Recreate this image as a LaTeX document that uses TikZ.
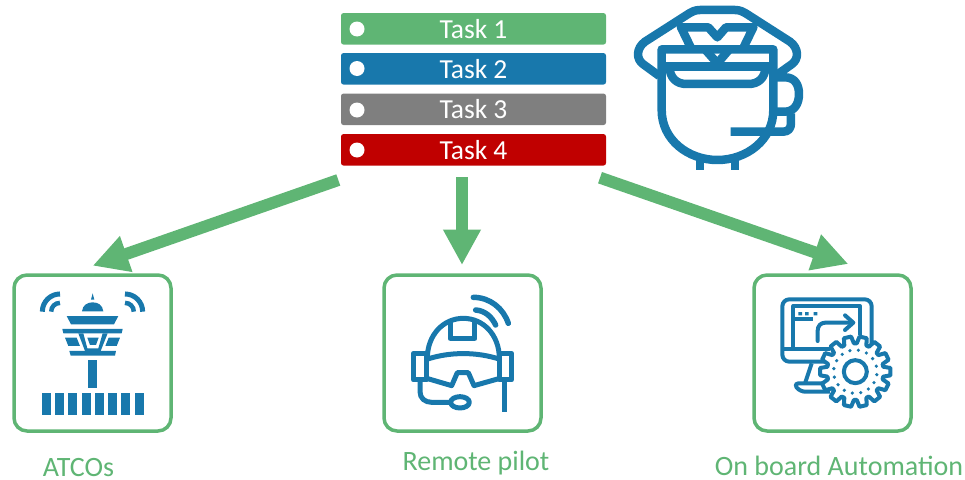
\documentclass[tikz,border=0pt]{standalone}
\usepackage{fontspec}
\setmainfont{Carlito}
\usetikzlibrary{arrows.meta}
\definecolor{gr}{HTML}{5FB574}
\definecolor{bl}{HTML}{1878AC}
\definecolor{gy}{HTML}{7F7F7F}
\definecolor{rd}{HTML}{C00000}
\tikzset{
  taskbar/.style={rounded corners=2.5pt,minimum width=265pt,minimum height=31.5pt,inner sep=0pt,text=white,font=\fontsize{27.5}{27.5}\selectfont},
  iconbox/.style={draw=gr,line width=3.5pt,rounded corners=13pt,minimum width=157pt,minimum height=156pt,inner sep=0pt},
  biglabel/.style={text=gr,inner sep=0pt,font=\fontsize{28}{28}\selectfont},
  dot/.style={fill=white,circle,minimum size=15pt,inner sep=0pt},
  bigarrow/.style={draw=gr,line width=12pt,-{Triangle[width=35.5pt,length=35.5pt]}},
  ic/.style={draw=bl,line join=round,fill=none},
}
\begin{document}
\begin{tikzpicture}[x=1pt,y=-1pt]
\useasboundingbox (0,0) rectangle (965,479);
% task bars
\node[taskbar,fill=gr] (t1) at (473.5,28.8) {Task 1};
\node[taskbar,fill=bl] (t2) at (473.5,68.8) {Task 2};
\node[taskbar,fill=gy] (t3) at (473.5,109.3) {Task 3};
\node[taskbar,fill=rd] (t4) at (473.5,149.8) {Task 4};
\node[dot] (d1) at (357,29) {};
\node[dot] (d2) at (357,68.5) {};
\node[dot] (d3) at (357,110) {};
\node[dot] (d4) at (357,150) {};
% boxes
\node[iconbox] (b1) at (92.5,353) {};
\node[iconbox] (b2) at (462.5,353) {};
\node[iconbox] (b3) at (832.5,353) {};
% labels
\node[biglabel] (l1) at (78.5,468) {ATCOs};
\node[biglabel] (l2) at (476,463) {Remote pilot};
\node[biglabel] (l3) at (839,466) {On board Automation};
% arrows
\coordinate (a1s) at (338.3,180);
\coordinate (a1e) at (92.7,265.7);
\coordinate (a2s) at (462,177.3);
\coordinate (a2e) at (462,265);
\coordinate (a3s) at (600,177.7);
\coordinate (a3e) at (848.3,264);
\draw[bigarrow] (a1s) -- (a1e);
\draw[bigarrow] (a2s) -- (a2e);
\draw[bigarrow] (a3s) -- (a3e);
% pilot cup icon
\begin{scope}[shift={(620,0)},x=0.3333pt,y=-0.3333pt,ic,line width=8.5pt]
\draw (118,228) -- (70,193) .. controls (48,178) and (48,145) .. (75,125) -- (200,45) .. controls (215,35) and (225,30) .. (240,30) -- (345,30) .. controls (360,30) and (370,35) .. (385,45) -- (510,125) .. controls (537,145) and (537,178) .. (515,193) -- (470,225);
\draw (125,148) -- (460,148) -- (460,330) .. controls (460,420) and (380,480) .. (292,480) .. controls (205,480) and (125,420) .. (125,330) -- cycle;
\draw (125,200) -- (460,200);
\draw (148,200) .. controls (150,235) and (170,252) .. (200,252) -- (385,252) .. controls (415,252) and (435,235) .. (437,200);
\draw (460,232) -- (495,232) .. controls (525,232) and (537,255) .. (537,282) .. controls (537,315) and (520,335) .. (495,335) -- (462,335);
\draw (513,340) -- (513,370) .. controls (513,385) and (505,395) .. (490,395) -- (332,395);
\draw (240,480) -- (240,510);
\draw (345,480) -- (345,510);
\draw (215,148) -- (183,82) -- (265,82) -- (292,112) -- (318,82) -- (400,82) -- (368,148);
\draw (255,148) -- (292,190) -- (328,148);
\end{scope}
% tower icon
\begin{scope}[shift={(10,270)},x=0.3333pt,y=-0.3333pt]
\draw[bl,line width=5pt] (97,125) arc[start angle=180,end angle=90,radius=17.7pt];
\draw[bl,line width=4.5pt] (123.5,125) arc[start angle=180,end angle=90,radius=8.8pt];
\draw[bl,line width=5pt] (398,125) arc[start angle=0,end angle=90,radius=17.7pt];
\draw[bl,line width=4.5pt] (371.5,125) arc[start angle=0,end angle=90,radius=8.8pt];
\fill[bl] (216,124) .. controls (218,105) and (232,97) .. (248,97) .. controls (264,97) and (278,105) .. (280,124) -- cycle;
\fill[bl] (248,70) -- (243,89) -- (253,89) -- cycle;
\fill[bl] (170,138) -- (325,138) -- (312,163) -- (183,163) -- cycle;
\fill[bl] (157,177) -- (338,177) -- (335,190) -- (160,190) -- cycle;
\fill[bl] (165,203) -- (200,203) -- (210,228) -- (175,228) -- cycle;
\fill[bl] (330,203) -- (296,203) -- (286,228) -- (320,228) -- cycle;
\fill[bl] (232,203) -- (266,203) -- (258,225) -- (240,225) -- cycle;
\fill[bl] (205,190) -- (220,190) -- (232,235) -- (265,235) -- (278,190) -- (293,190) -- (272,243) -- (225,243) -- cycle;
\fill[bl] (178,243) -- (318,243) -- (315,257) -- (182,257) -- cycle;
\fill[bl] (235,270) rectangle (261,355);
\foreach \k in {0,...,7}{\fill[bl] ({96+\k*39.7},369) rectangle ({123+\k*39.7},435);}
\end{scope}
% helmet icon
\begin{scope}[shift={(380,270)},x=0.3333pt,y=-0.3333pt,ic,line width=5pt]
\draw (142,265) .. controls (142,195) and (190,145) .. (250,145) .. controls (310,145) and (358,195) .. (358,265);
\draw (210,150) -- (210,205) -- (285,205) -- (285,150);
\draw (140,268) .. controls (210,245) and (290,245) .. (360,268);
\draw (140,250) -- (100,250) -- (100,330) -- (140,330) -- (140,250);
\draw (360,250) -- (395,250) -- (395,330) -- (360,330) -- (360,250);
\draw (140,325) -- (215,347) -- (232,308) -- (265,308) -- (282,347) -- (360,325);
\draw (120,332) -- (120,365) .. controls (120,385) and (135,397) .. (155,397) -- (212,397);
\draw (240,397) ellipse (28 and 17);
\draw (373,330) -- (373,425);
\draw[line cap=round,line width=5.5pt] (280,82) .. controls (330,82) and (370,115) .. (385,160);
\draw[line cap=round,line width=5.5pt] (287,120) .. controls (315,122) and (335,140) .. (347,165);
\end{scope}
% automation icon
\begin{scope}[shift={(750,270)},x=0.3333pt,y=-0.3333pt,ic,line width=4pt]
\draw[rounded corners=7pt] (250,275) -- (97,275) -- (97,88) -- (365,88) -- (365,230);
\draw (97,237) -- (240,237);
\draw (330,195) -- (330,108) -- (130,108) -- (130,232);
\draw (130,147) -- (190,147);
\fill[bl] (145,126) rectangle (156,136) (165,126) rectangle (176,136) (191,126) rectangle (202,136);
\draw[line cap=round] (203,213) -- (203,182) .. controls (203,168) and (212,158) .. (226,158) -- (307,158);
\draw[line cap=round] (285,136) -- (310,158) -- (285,180);
\draw (185,280) -- (165,340);
\draw[rounded corners=5pt] (225,340) -- (130,340) -- (150,365) -- (240,365);
\begin{scope}[shift={(316,305)}]
\draw[fill=white] (-10:85) \foreach \i in {0,...,13}{ -- ({\i*360/14-10}:85) -- ({\i*360/14-6}:106) -- ({\i*360/14+6}:106) -- ({\i*360/14+10}:85)} -- cycle;
\draw (0,0) circle (11.5pt);
\foreach \i in {0,...,15}{\fill[bl] ({\i*22.5+8}:65) circle (1.8pt);}
\end{scope}
\end{scope}
\end{tikzpicture}
\end{document}
